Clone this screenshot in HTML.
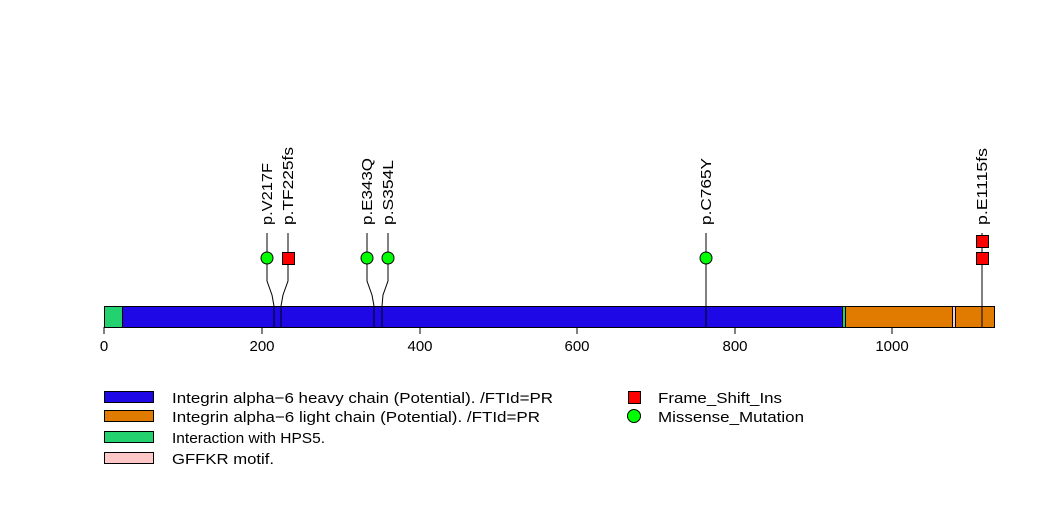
<!DOCTYPE html>
<html><head><meta charset="utf-8"><style>body{margin:0;background:#fff}</style></head><body>
<svg width="1047" height="524" xmlns="http://www.w3.org/2000/svg" font-family="Liberation Sans, sans-serif">
<rect width="1047" height="524" fill="#fff"/>
<g stroke="#000" stroke-width="1" fill="none">
<polyline points="267,233 267,281 272,295 274,306 274,327"/>
<polyline points="288,233 288,281 283,295 281,306 281,327"/>
<polyline points="367,233 367,281 372,295 374,306 374,327"/>
<polyline points="388,233 388,281 383,295 382,306 382,327"/>
<polyline points="706,233 706,327"/>
<polyline points="982,233 982,327"/>
</g>
<rect x="104.5" y="306.5" width="890" height="21" fill="#e07b00" stroke="#000"/>
<rect x="104.5" y="306.5" width="18" height="21" fill="#23d26e" stroke="#000"/>
<rect x="122.5" y="306.5" width="720" height="21" fill="#1e08e6" stroke="#000"/>
<rect x="842.5" y="306.5" width="3" height="21" fill="#23d26e" stroke="#000"/>
<rect x="952.5" y="306.5" width="3" height="21" fill="#ffc8c8" stroke="#000"/>
<g stroke="#000"><line x1="274" y1="306" x2="274" y2="327"/><line x1="281" y1="306" x2="281" y2="327"/><line x1="374" y1="306" x2="374" y2="327"/><line x1="382" y1="306" x2="382" y2="327"/><line x1="706" y1="306" x2="706" y2="327"/><line x1="982" y1="306" x2="982" y2="327"/></g>
<g fill="#0f0" stroke="#000"><circle cx="267" cy="258" r="6"/><circle cx="367" cy="258" r="6"/><circle cx="388" cy="258" r="6"/><circle cx="706" cy="258" r="6"/></g>
<g fill="#f00" stroke="#000"><rect x="282.5" y="252.5" width="12" height="12"/><rect x="976.5" y="252.5" width="12" height="12"/><rect x="976.5" y="235.5" width="12" height="12"/></g>
<g font-size="15" fill="#000">
<text transform="translate(272,225) rotate(-90)" textLength="62" lengthAdjust="spacingAndGlyphs">p.V217F</text>
<text transform="translate(293,225) rotate(-90)" textLength="78" lengthAdjust="spacingAndGlyphs">p.TF225fs</text>
<text transform="translate(372,225) rotate(-90)" textLength="67" lengthAdjust="spacingAndGlyphs">p.E343Q</text>
<text transform="translate(393,225) rotate(-90)" textLength="65" lengthAdjust="spacingAndGlyphs">p.S354L</text>
<text transform="translate(711,225) rotate(-90)" textLength="67" lengthAdjust="spacingAndGlyphs">p.C765Y</text>
<text transform="translate(987,225) rotate(-90)" textLength="77" lengthAdjust="spacingAndGlyphs">p.E1115fs</text>
</g>
<g stroke="#000"><line x1="104" y1="327" x2="104" y2="334"/><line x1="262" y1="327" x2="262" y2="334"/><line x1="420" y1="327" x2="420" y2="334"/><line x1="577" y1="327" x2="577" y2="334"/><line x1="735" y1="327" x2="735" y2="334"/><line x1="892" y1="327" x2="892" y2="334"/></g>
<g font-size="15" text-anchor="middle"><text x="104" y="351">0</text><text x="262" y="351">200</text><text x="420" y="351">400</text><text x="577" y="351">600</text><text x="735" y="351">800</text><text x="892" y="351">1000</text></g>
<g stroke="#000"><rect x="104.5" y="391.5" width="49" height="11" fill="#1e08e6"/><rect x="104.5" y="410.5" width="49" height="11" fill="#e07b00"/><rect x="104.5" y="431.5" width="49" height="11" fill="#23d26e"/><rect x="104.5" y="452.5" width="49" height="11" fill="#ffc8c8"/></g>
<g font-size="15" lengthAdjust="spacingAndGlyphs"><text x="172" y="403" textLength="381" lengthAdjust="spacingAndGlyphs">Integrin alpha−6 heavy chain (Potential). /FTId=PR</text><text x="172" y="422" textLength="368" lengthAdjust="spacingAndGlyphs">Integrin alpha−6 light chain (Potential). /FTId=PR</text><text x="172" y="443" textLength="153" lengthAdjust="spacingAndGlyphs">Interaction with HPS5.</text><text x="172" y="464" textLength="102" lengthAdjust="spacingAndGlyphs">GFFKR motif.</text>
<text x="658" y="403" textLength="124" lengthAdjust="spacingAndGlyphs">Frame_Shift_Ins</text><text x="658" y="422" textLength="146" lengthAdjust="spacingAndGlyphs">Missense_Mutation</text></g>
<rect x="628.5" y="391.5" width="12" height="12" fill="#f00" stroke="#000"/>
<circle cx="634" cy="416" r="6.5" fill="#0f0" stroke="#000"/>
</svg>
</body></html>
